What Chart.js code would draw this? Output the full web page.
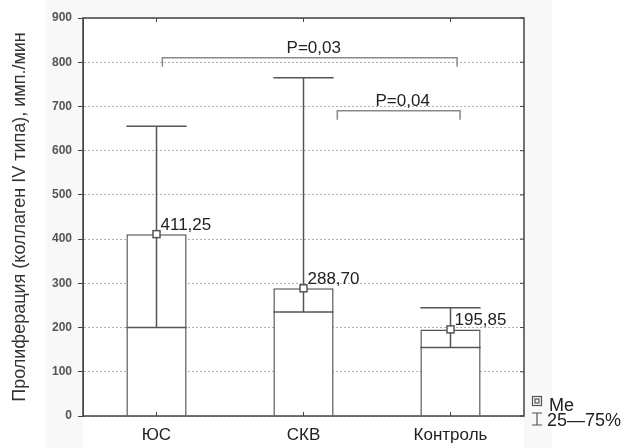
<!DOCTYPE html>
<html>
<head>
<meta charset="utf-8">
<script src="https://cdn.jsdelivr.net/npm/chart.js@4"></script>
<style>
  html, body { margin: 0; padding: 0; background: #ffffff; }
  #wrap { position: relative; width: 624px; height: 448px; }
</style>
</head>
<body>
<div id="wrap"><canvas id="prolifChart" width="624" height="448"></canvas></div>
<script>
const groups = ['ЮС', 'СКВ', 'Контроль'];
const medians = [411.25, 288.70, 195.85];
const medianLabels = ['411,25', '288,70', '195,85'];
const q25 = [200, 235, 155];
const q75 = [655, 765, 245];
const yTicks = [0, 100, 200, 300, 400, 500, 600, 700, 800, 900];

// significance brackets: [start, end (category units), level, text]
const brackets = [
    [0.04, 2.045, 810, 'P=0,03'],
    [1.23, 2.065, 690, 'P=0,04']
];

const lineColor = '#555555';
const font = 'Arial, "Liberation Sans", sans-serif';

const whiskerPlugin = {
    id: 'whiskers',
    beforeDraw(chart) {
        const ctx = chart.ctx;
        const a = chart.chartArea;
        ctx.save();
        ctx.fillStyle = '#f8f8f8';
        ctx.fillRect(46, 0, 506, 448);
        ctx.fillStyle = '#ffffff';
        ctx.fillRect(a.left, a.top, a.right - a.left, 448 - a.top);
        ctx.restore();
    },
    afterDatasetsDraw(chart) {
        const ctx = chart.ctx;
        const x = chart.scales.x;
        const y = chart.scales.y;
        const meta = chart.getDatasetMeta(0);
        ctx.save();
        ctx.strokeStyle = lineColor;
        ctx.lineWidth = 1.5;
        groups.forEach((g, i) => {
            const bar = meta.data[i];
            const cx = bar.x;
            const half = bar.width / 2;
            const yMed = y.getPixelForValue(medians[i]);
            const yLo = y.getPixelForValue(q25[i]);
            const yHi = y.getPixelForValue(q75[i]);
            ctx.beginPath();
            ctx.moveTo(cx, yLo);
            ctx.lineTo(cx, yHi);
            ctx.moveTo(cx - half, yLo);
            ctx.lineTo(cx + half, yLo);
            ctx.moveTo(cx - half, yHi);
            ctx.lineTo(cx + half, yHi);
            ctx.stroke();
            // median marker
            ctx.fillStyle = '#ffffff';
            ctx.fillRect(cx - 3.5, yMed - 3.5, 7, 7);
            ctx.strokeRect(cx - 3.5, yMed - 3.5, 7, 7);
            ctx.fillStyle = '#222';
            ctx.font = '17px ' + font;
            ctx.textAlign = 'left';
            ctx.textBaseline = 'alphabetic';
            ctx.fillText(medianLabels[i], cx + 4, yMed - 4);
        });

        // brackets
        ctx.strokeStyle = '#8a8a8a';
        ctx.lineWidth = 1.5;
        brackets.forEach(([from, to, level, text]) => {
            const x1 = x.getPixelForValue(from);
            const x2 = x.getPixelForValue(to);
            const yy = y.getPixelForValue(level);
            ctx.beginPath();
            ctx.moveTo(x1, yy + 9);
            ctx.lineTo(x1, yy);
            ctx.lineTo(x2, yy);
            ctx.lineTo(x2, yy + 9);
            ctx.stroke();
            ctx.fillStyle = '#222';
            ctx.font = '17px ' + font;
            ctx.textAlign = 'center';
            ctx.textBaseline = 'alphabetic';
            ctx.fillText(text, (x1 + x2) / 2 + 4, yy - 5);
        });

        // frame and inner ticks
        const a = chart.chartArea;
        ctx.strokeStyle = '#444';
        ctx.lineWidth = 1.5;
        ctx.strokeRect(a.left, a.top, a.right - a.left, a.bottom - a.top);
        ctx.lineWidth = 1;
        ctx.beginPath();
        yTicks.forEach(v => {
            const yy = y.getPixelForValue(v);
            ctx.moveTo(a.right - 4, yy);
            ctx.lineTo(a.right, yy);
        });
        groups.forEach((g, i) => {
            const xx = x.getPixelForValue(i);
            ctx.moveTo(xx, a.top);
            ctx.lineTo(xx, a.top + 4);
            ctx.moveTo(xx, a.bottom);
            ctx.lineTo(xx, a.bottom - 4);
        });
        ctx.stroke();

        // legend
        ctx.strokeStyle = lineColor;
        ctx.lineWidth = 1.2;
        ctx.strokeRect(532.5, 396.5, 9, 9);
        ctx.strokeRect(535, 399, 4, 4);
        ctx.beginPath();
        ctx.moveTo(532, 413);
        ctx.lineTo(542, 413);
        ctx.moveTo(537, 413);
        ctx.lineTo(537, 425);
        ctx.moveTo(532, 425);
        ctx.lineTo(542, 425);
        ctx.stroke();
        ctx.fillStyle = '#222';
        ctx.font = '18px ' + font;
        ctx.textAlign = 'left';
        ctx.textBaseline = 'alphabetic';
        ctx.fillText('Me', 549, 411);
        ctx.fillText('25\u201475%', 547, 426);
        ctx.restore();
    }
};

const ctx = document.getElementById('prolifChart').getContext('2d');
new Chart(ctx, {
    type: 'bar',
    data: {
        labels: groups,
        datasets: [{
            data: medians,
            backgroundColor: '#ffffff',
            borderColor: lineColor,
            borderWidth: 1.5,
            borderSkipped: 'bottom',
            categoryPercentage: 0.41,
            barPercentage: 1
        }]
    },
    options: {
        responsive: false,
        animation: false,
        layout: { padding: { left: 0, right: 100, top: 18, bottom: 0 } },
        plugins: { legend: { display: false }, tooltip: { enabled: false } },
        scales: {
            x: {
                grid: { display: false },
                border: { display: false },
                ticks: {
                    color: '#222',
                    font: { family: font, size: 17 },
                    padding: 1
                },
                afterFit: s => { s.height = 32; }
            },
            y: {
                min: 0,
                max: 900,
                afterBuildTicks: s => { s.ticks = yTicks.map(v => ({ value: v })); },
                grid: {
                    color: '#b0b0b0',
                    lineWidth: 1,
                    tickLength: 5,
                    tickColor: '#444'
                },
                border: { display: true, color: '#444', dash: [2, 2] },
                ticks: {
                    color: '#555',
                    font: { family: font, size: 12, weight: 'bold' },
                    padding: 6
                },
                title: {
                    display: true,
                    text: 'Пролиферация (коллаген IV типа), имп./мин',
                    color: '#333',
                    font: { family: font, size: 18 },
                    padding: { top: 9, bottom: 6 }
                },
                afterFit: s => { s.width = 83; }
            }
        }
    },
    plugins: [whiskerPlugin]
});
</script>
</body>
</html>
